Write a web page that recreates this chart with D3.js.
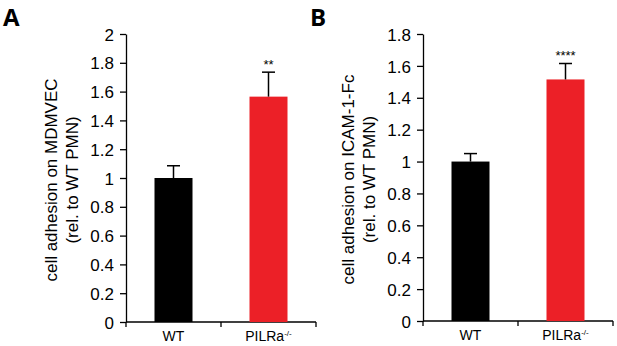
<!DOCTYPE html>
<html>
<head>
<meta charset="utf-8">
<script src="https://d3js.org/d3.v7.min.js"></script>
<style>
  body, html { margin: 0; padding: 0; background: #fff; }
  svg { display: block; font-family: 'Liberation Sans', Arial, sans-serif; }
  .panelLetter { font-family: 'Open Sans', 'DejaVu Sans', sans-serif; font-weight: bold; font-size: 24px; }
</style>
</head>
<body>
<svg id="chart" width="617" height="346"></svg>
<script>
// shared categories
const groups = ["WT", "PILRa"];
const barColors = ["#000000", "#ec2027"];

// panel A: MDMVEC
const aMeans = [1.0, 1.565];
const aErrors = [0.085, 0.17];
const aStars = ["", "**"];
const aTicks = [0, 0.2, 0.4, 0.6, 0.8, 1, 1.2, 1.4, 1.6, 1.8, 2];

// panel B: ICAM-1-Fc
const bMeans = [1.0, 1.515];
const bErrors = [0.05, 0.1];
const bStars = ["", "****"];
const bTicks = [0, 0.2, 0.4, 0.6, 0.8, 1, 1.2, 1.4, 1.6, 1.8];

const svg = d3.select("#chart");

function drawPanel(opts) {
  const g = svg.append("g");
  const x = d3.scaleBand().domain(groups).range([opts.x0, opts.x1]).paddingInner(0.6).paddingOuter(0.3);
  const y = d3.scaleLinear().domain([0, opts.ymax]).range([opts.yBottom, opts.yTop]);

  // x axis: baseline with ticks at the band edges
  const edges = [opts.x0, (opts.x0 + opts.x1) / 2, opts.x1];
  g.append("line").attr("x1", opts.x0).attr("x2", opts.x1)
    .attr("y1", opts.yBottom).attr("y2", opts.yBottom)
    .attr("stroke", "#000").attr("stroke-width", 1.3);
  g.selectAll(".xt").data(edges).enter().append("line")
    .attr("x1", d => d).attr("x2", d => d)
    .attr("y1", opts.yBottom).attr("y2", opts.yBottom + 5)
    .attr("stroke", "#000").attr("stroke-width", 1.3);

  // y axis
  g.append("g").attr("transform", `translate(${opts.x0},0)`)
    .call(d3.axisLeft(y).tickValues(opts.ticks).tickSize(6).tickPadding(6).tickSizeOuter(0)
      .tickFormat(d3.format("")))
    .call(s => s.attr("font-family", null).attr("font-size", null))
    .call(s => s.selectAll(".domain, .tick line").attr("stroke", "#000").attr("stroke-width", 1.3))
    .call(s => s.selectAll("text").attr("dy", "0.36em").attr("fill", "#000")
      .style("font-size", "17px").style("font-family", "'Liberation Sans', Arial, sans-serif"));

  // bars
  g.selectAll(".bar").data(opts.means).enter().append("rect")
    .attr("x", (d, i) => x(groups[i]))
    .attr("width", x.bandwidth())
    .attr("y", d => y(d))
    .attr("height", d => y(0) - y(d))
    .attr("fill", (d, i) => barColors[i]);

  // error bars (upper only)
  const cap = 6.5;
  opts.means.forEach((m, i) => {
    const cx = x(groups[i]) + x.bandwidth() / 2;
    g.append("line").attr("x1", cx).attr("x2", cx)
      .attr("y1", y(m)).attr("y2", y(m + opts.errors[i]))
      .attr("stroke", "#000").attr("stroke-width", 1.5);
    g.append("line").attr("x1", cx - cap).attr("x2", cx + cap)
      .attr("y1", y(m + opts.errors[i])).attr("y2", y(m + opts.errors[i]))
      .attr("stroke", "#000").attr("stroke-width", 1.5);
    if (opts.stars[i]) {
      g.append("text").attr("x", cx).attr("y", y(m + opts.errors[i]) - 3)
        .attr("text-anchor", "middle").style("font-size", "13px").text(opts.stars[i]);
    }
  });

  // x labels
  groups.forEach((name, i) => {
    const t = g.append("text")
      .attr("x", x(name) + x.bandwidth() / 2)
      .attr("y", opts.yBottom + 19)
      .attr("text-anchor", "middle")
      .style("font-size", "14px");
    t.append("tspan").text(name);
    if (name === "PILRa") {
      t.append("tspan").style("font-size", "8px").attr("dy", -5).text("-/-");
    }
  });

  // y title
  const tx = opts.titleX, ty = (opts.yTop + opts.yBottom) / 2 + 2;
  const title = g.append("text")
    .attr("transform", `translate(${tx},${ty}) rotate(-90)`)
    .attr("text-anchor", "middle").style("font-size", "17px");
  title.append("tspan").attr("x", 0).attr("dy", 0).text(opts.title1);
  title.append("tspan").attr("x", 0).attr("dy", 21).text(opts.title2);

  svg.append("text").attr("class", "panelLetter")
    .attr("x", opts.letterX).attr("y", 26).text(opts.letter);
}

drawPanel({
  x0: 126, x1: 316, yTop: 34, yBottom: 322, ymax: 2,
  means: aMeans, errors: aErrors, stars: aStars, ticks: aTicks,
  title1: "cell adhesion on MDMVEC", title2: "(rel. to WT PMN)",
  titleX: 57, letter: "A", letterX: 3
});

drawPanel({
  x0: 423, x1: 613, yTop: 34, yBottom: 321, ymax: 1.8,
  means: bMeans, errors: bErrors, stars: bStars, ticks: bTicks,
  title1: "cell adhesion on ICAM-1-Fc", title2: "(rel. to WT PMN)",
  titleX: 354, letter: "B", letterX: 310
});
</script>
</body>
</html>
